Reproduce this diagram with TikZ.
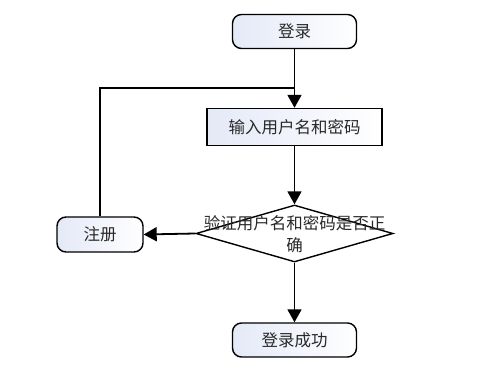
\documentclass[tikz,border=0pt]{standalone}
\usepackage{fontspec}
\newfontfamily\cjk{Noto Sans CJK SC}
\usetikzlibrary{shapes.geometric,arrows.meta}
\definecolor{boxleft}{RGB}{228,233,247}
\definecolor{txt}{RGB}{40,40,40}
\begin{document}
\begin{tikzpicture}[x=1pt,y=1pt,
  lbl/.style={font=\cjk\fontsize{16.5}{22}\selectfont, text=txt},
  term/.style={lbl, draw=black, line width=1.4pt, rounded corners=9pt, left color=boxleft, right color=white, minimum width=124pt, minimum height=34pt, inner sep=0pt},
  proc/.style={lbl, draw=black, line width=1.4pt, left color=boxleft, right color=white, minimum width=175pt, minimum height=37pt, inner sep=0pt},
  conn/.style={line width=1.8pt, -{Triangle[length=13pt,width=14pt]}},
  plain/.style={line width=1.8pt}
]
\useasboundingbox (0,0) rectangle (500,-387);
\node[term] (start) at (294.5,-31.5) {登录};
\node[proc] (input) at (294.5,-127) {输入用户名和密码};
\node[diamond, draw=black, line width=1.4pt, fill=white, minimum width=197pt, minimum height=57pt, inner sep=0pt] (dec) at (294.5,-233.5) {};
\node[lbl, align=center, inner sep=0pt] (dectext) at (294.5,-234) {验证用户名和密码是否正\\确};
\node[term, minimum width=86pt, minimum height=35pt] (reg) at (100,-234.5) {注册};
\node[term] (ok) at (294.5,-340) {登录成功};
\coordinate (j) at (294.5,-88);
\draw[conn] (start.south) -- (input.north);
\draw[conn] (input.south) -- (dec.north);
\draw[conn] (dec.west) -- (reg.east);
\draw[conn] (dec.south) -- (ok.north);
\draw[plain] (reg.north) |- (j);
\end{tikzpicture}
\end{document}
